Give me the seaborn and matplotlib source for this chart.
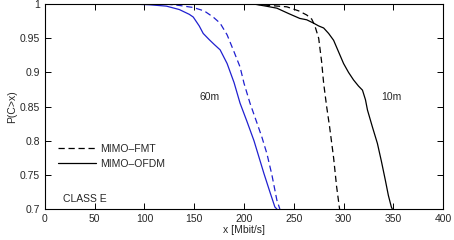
import numpy as np
import pandas as pd
import seaborn as sns
import matplotlib.pyplot as plt
from matplotlib.lines import Line2D
from matplotlib.ticker import FuncFormatter

# 60m, MIMO-OFDM (blue solid)
ofdm60_x = [88, 105, 122, 135, 145, 149, 155, 159, 165, 170, 176, 183, 190, 196, 203, 210, 215, 220, 226, 231, 233]
ofdm60_y = [1.0, 0.999, 0.997, 0.992, 0.985, 0.981, 0.968, 0.957, 0.948, 0.941, 0.933, 0.913, 0.885, 0.855, 0.828, 0.80, 0.776, 0.752, 0.725, 0.703, 0.70]
# 60m, MIMO-FMT (blue dashed)
fmt60_x = [122, 135, 149, 160, 169, 176, 183, 190, 196, 200, 206, 213, 218, 223, 228, 233, 236]
fmt60_y = [1.0, 0.998, 0.995, 0.99, 0.981, 0.972, 0.955, 0.93, 0.908, 0.884, 0.855, 0.826, 0.805, 0.781, 0.75, 0.713, 0.70]
# 10m, MIMO-FMT (black dashed)
fmt10_x = [210, 225, 243, 255, 263, 268, 271, 275, 278, 280, 283, 286, 290, 293, 296]
fmt10_y = [1.0, 0.998, 0.996, 0.99, 0.984, 0.978, 0.969, 0.95, 0.915, 0.884, 0.85, 0.82, 0.775, 0.733, 0.70]
# 10m, MIMO-OFDM (black solid)
ofdm10_x = [210, 222, 233, 245, 256, 263, 270, 275, 280, 285, 290, 295, 300, 305, 310, 315, 319, 322, 324, 329, 334, 338, 342, 345, 348, 349]
ofdm10_y = [1.0, 0.997, 0.994, 0.986, 0.979, 0.977, 0.972, 0.968, 0.965, 0.957, 0.947, 0.93, 0.913, 0.9, 0.889, 0.88, 0.874, 0.86, 0.845, 0.82, 0.796, 0.77, 0.742, 0.72, 0.703, 0.70]

frames = []
for name, xs, ys in [("ofdm60", ofdm60_x, ofdm60_y), ("fmt60", fmt60_x, fmt60_y),
                     ("fmt10", fmt10_x, fmt10_y), ("ofdm10", ofdm10_x, ofdm10_y)]:
    frames.append(pd.DataFrame({"x": xs, "p": ys, "curve": name}))
df = pd.concat(frames, ignore_index=True)

sns.set_style("ticks")
plt.rcParams['font.family'] = ['Liberation Sans', 'DejaVu Sans']
plt.rcParams['xtick.direction'] = 'in'
plt.rcParams['ytick.direction'] = 'in'

fig = plt.figure(figsize=(4.54, 2.4), dpi=100)
ax = fig.add_axes([0.099, 0.129, 0.877, 0.854])

colors = {"ofdm60": "#2020d0", "fmt60": "#2020d0", "fmt10": "black", "ofdm10": "black"}
dashes = {"ofdm60": "", "fmt60": (5, 3), "fmt10": (5, 3), "ofdm10": ""}
sns.lineplot(data=df, x="x", y="p", hue="curve", style="curve", palette=colors,
             dashes=dashes, sort=False, estimator=None, linewidth=0.9, legend=False, ax=ax)

ax.set_xlim(0, 400)
ax.set_ylim(0.7, 1.0)
ax.set_xticks(np.arange(0, 401, 50))
ax.set_yticks(np.arange(0.7, 1.001, 0.05))
ax.yaxis.set_major_formatter(FuncFormatter(lambda v, p: "%g" % round(v, 2)))
ax.tick_params(labelsize=7.5, length=4, width=0.7, color="black", top=True, right=True, direction="in")
for s in ax.spines.values():
    s.set_linewidth(0.8)
    s.set_color("black")
    s.set_visible(True)
ax.set_xlabel("x [Mbit/s]", fontsize=7.5, labelpad=1)
ax.set_ylabel("P(C>x)", fontsize=7.5, labelpad=2)

ax.text(165, 0.864, "60m", fontsize=7.5, ha="center", va="center")
ax.text(348, 0.864, "10m", fontsize=7.5, ha="center", va="center")
ax.text(18, 0.715, "CLASS E", fontsize=7.5, ha="left", va="center")

handles = [Line2D([], [], color="black", ls=(0, (5, 3)), lw=0.9),
           Line2D([], [], color="black", ls="-", lw=0.9)]
ax.legend(handles, ["MIMO\u2013FMT", "MIMO\u2013OFDM"], loc="lower left",
          bbox_to_anchor=(0.01, 0.15), frameon=False, fontsize=7.5,
          handlelength=3.6, handletextpad=0.4, labelspacing=0.5)

fig.savefig("out.png", dpi=100)
